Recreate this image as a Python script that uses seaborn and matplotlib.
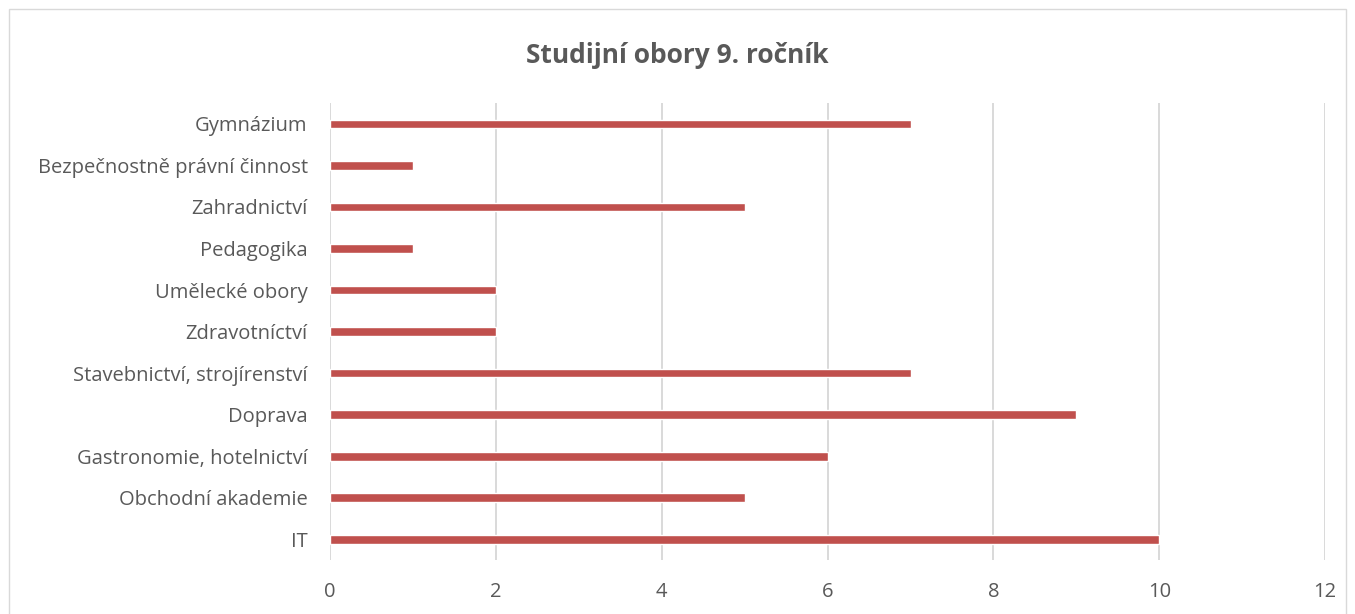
import pandas as pd
import seaborn as sns
import matplotlib.pyplot as plt
from matplotlib.patches import Rectangle

obory = ['Gymnázium', 'Bezpečnostně právní činnost', 'Zahradnictví', 'Pedagogika',
         'Umělecké obory', 'Zdravotníctví', 'Stavebnictví, strojírenství', 'Doprava',
         'Gastronomie, hotelnictví', 'Obchodní akademie', 'IT']
pocty = [7, 1, 5, 1, 2, 2, 7, 9, 6, 5, 10]

df = pd.DataFrame({'obor': obory, 'pocet': pocty})

sns.set_style('white')
plt.rcParams['font.family'] = ['Open Sans', 'DejaVu Sans']

fig = plt.figure(figsize=(13.55, 6.14), dpi=100)
ax = fig.add_axes([0.2435, 0.088, 0.7345, 0.744])

sns.barplot(data=df, y='obor', x='pocet', color='#C0504D', width=0.21, saturation=1, ax=ax)

ax.set_xlim(0, 12)
ax.set_ylim(10.5, -0.5)
ax.set_xticks(range(0, 13, 2))
ax.xaxis.grid(True, color='#D9D9D9', linewidth=1.4)
ax.set_axisbelow(True)
for s in ax.spines.values():
    s.set_visible(False)
ax.set_xlabel('')
ax.set_ylabel('')
ax.tick_params(axis='both', length=0, labelsize=14.5, labelcolor='#595959')
ax.tick_params(axis='x', pad=16)
ax.tick_params(axis='y', pad=16)

fig.text(0.5, 0.91, 'Studijní obory 9. ročník', ha='center', va='center',
         fontsize=19, fontweight='bold', color='#595959')

fig.patches.append(Rectangle((0.007, -0.05), 0.986, 1.035, transform=fig.transFigure,
                             fill=False, edgecolor='#D9D9D9', linewidth=1))

fig.savefig('out.png', dpi=100)
